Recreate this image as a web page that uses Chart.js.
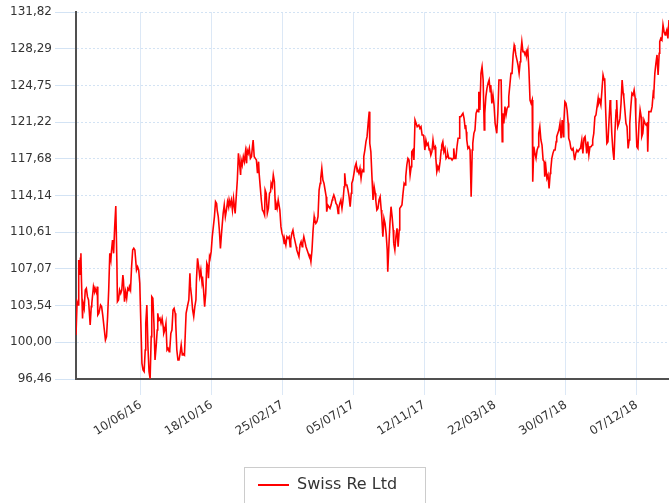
<!DOCTYPE html>
<html>
<head>
<meta charset="utf-8">
<script src="https://cdn.jsdelivr.net/npm/chart.js@4.4.0/dist/chart.umd.min.js"></script>
<style>
  html, body { margin: 0; padding: 0; background: #fff; }
  #chart { display: block; }
</style>
</head>
<body>
<canvas id="chart" width="669" height="503"></canvas>
<script>
var seriesName = 'Swiss Re Ltd';
var startDate = '2016-02-12';   // day 0 of the series
var lastDay = 1088;

// days since startDate
var days = [
  0, 2, 4, 5, 7, 8, 9, 10, 12, 13, 15, 17, 19, 21, 23, 26, 28, 29, 32, 34, 35, 38, 39, 40, 42, 45, 47, 49, 52, 54,
  56, 58, 60, 62, 64, 65, 67, 69, 71, 73, 75, 76, 78, 80, 82, 84, 86, 87, 89, 91, 93, 95, 97, 98, 100, 102, 104, 106, 108, 109,
  111, 113, 115, 117, 119, 121, 123, 125, 127, 128, 130, 132, 134, 136, 138, 139, 141, 143, 145, 147, 149, 150, 152, 154, 156, 158, 160, 161, 163, 165,
  167, 169, 171, 172, 174, 176, 178, 180, 182, 183, 185, 187, 189,
  191, 193, 195, 196, 199, 201, 202, 205, 207, 209, 210, 212, 214, 216, 218, 220, 221, 223, 225, 227, 229, 231, 232, 234, 236, 238, 240, 242, 243, 245,
  246, 248, 250, 252, 254, 256, 258, 259, 261, 263, 265, 267, 269, 270, 272, 274, 276, 278, 280, 281, 283, 285, 287, 289, 291, 292, 294, 296, 298, 300,
  302, 303, 305, 307, 309, 311, 313, 314, 316, 318, 320, 322, 324, 325, 327, 329, 331, 333, 335, 336, 338, 340, 342, 344, 346, 347, 349, 351, 353, 355,
  357, 358, 360, 362, 364, 366,
  367, 369, 371, 372, 374, 376, 378, 380, 382, 383, 385, 387, 389, 391, 393, 394, 396, 398, 400, 402, 404, 405, 407, 409, 411, 413, 415, 416, 418, 420,
  422, 424, 426, 427, 429, 431, 433, 435, 437, 438, 440, 442, 444, 446, 448, 449, 451, 453, 455, 457, 459, 460, 462, 464, 466, 468, 470, 471, 473, 475,
  477, 479, 481, 482, 484, 486, 488, 490, 492, 493, 495, 497, 499, 501, 503, 505, 506, 508, 510, 512, 514, 516, 517, 519, 521, 523, 525, 527, 528, 530,
  532, 534, 536, 538, 539,
  541, 543, 545, 547, 549, 550, 552, 554, 556, 558, 560, 561, 563, 565, 567, 569, 571, 572, 574, 576, 578, 580, 582, 583, 585, 587, 589, 591, 593, 594,
  596, 598, 600, 602, 604, 605, 607, 609, 611, 613, 615, 616, 618, 620, 622, 624, 626, 627, 629, 631, 633, 635, 637, 638, 640, 642, 644, 646, 648, 649,
  651, 653, 655, 657, 659, 660, 662, 664, 666, 668, 670, 671, 673, 675, 677, 679, 681, 682, 684, 686, 688, 690, 692, 693, 695, 697, 699, 701, 703, 704,
  706, 708, 710, 712, 714, 715,
  716, 717, 719, 721, 723, 725, 727, 728, 730, 732, 734, 736, 738, 739, 741, 743, 745, 747, 749, 750, 752, 754, 756, 758, 760, 761, 763, 765, 767, 769,
  771, 772, 774, 776, 778, 780, 782, 783, 785, 787, 789, 791, 793, 794, 796, 798, 800, 802, 804, 805, 807, 809, 811, 813, 815, 816, 818, 820, 822, 824,
  826, 827, 829, 831, 833, 835, 837, 838, 840, 842, 844, 846, 848, 849, 851, 853, 855, 857, 859, 860, 862, 864, 866, 868, 870, 871, 873, 875, 877, 879,
  881, 882, 884, 886, 888, 890, 892, 894, 895, 897,
  899, 901, 903, 904, 906, 908, 910, 912, 914, 915, 917, 919, 921, 923, 925, 926, 928, 930, 932, 934, 936, 937, 939, 941, 943, 945, 947, 948, 950, 952,
  954, 956, 958, 959, 961, 963, 965, 967, 969, 970, 972, 974, 976, 978, 980, 981, 983, 985, 987, 989, 991, 992, 994, 996, 998, 1000, 1002, 1004, 1005, 1007,
  1009, 1011, 1013, 1015, 1016, 1018, 1020, 1022, 1024, 1026, 1027, 1029, 1031, 1033, 1035, 1037, 1038, 1040, 1042, 1044, 1046, 1048, 1049, 1051, 1053, 1055, 1057, 1059, 1060, 1062,
  1064, 1066, 1068, 1070, 1071, 1073, 1075, 1077, 1079, 1081, 1082, 1084, 1086, 1088
];

// closing prices (CHF)
var prices = [
  100.70, 103.91, 103.59, 107.93, 106.48, 108.09, 108.57, 106.00, 102.30, 103.75, 103.27, 105.03, 105.20, 104.39, 104.07, 101.66, 103.43, 103.75, 105.36, 104.87, 105.20, 104.71, 105.36, 102.63, 102.79, 103.59, 103.43, 102.63, 101.18, 100.22,
  100.54, 102.47, 105.03, 108.57, 107.93, 108.73, 109.85, 108.57, 111.14, 113.13, 107.76, 103.91, 104.07, 105.03, 104.71, 105.03, 106.48, 106.00, 103.91, 104.87, 104.23, 105.20, 105.03, 105.36, 105.03, 107.28, 108.89, 109.05, 108.89, 108.25,
  106.96, 107.28, 106.96, 105.68, 101.82, 97.97, 97.33, 97.17, 99.25, 101.82, 103.59, 99.57, 97.17, 96.50, 100.54, 104.39, 104.23, 101.82, 98.29, 99.57, 101.18, 102.79, 102.14, 102.30, 101.82, 102.30, 101.50, 100.86, 101.18, 101.82,
  99.25, 99.41, 99.09, 99.25, 100.86, 101.18, 103.11, 103.27, 102.79, 101.82, 99.25, 98.29, 98.29,
  98.93, 99.73, 98.77, 98.93, 98.77, 101.50, 102.79, 103.59, 104.07, 106.64, 105.36, 104.39, 103.11, 102.47, 103.43, 104.07, 106.00, 108.09, 107.28, 106.32, 106.96, 105.84, 106.32, 105.03, 103.43, 104.71, 107.60, 107.28, 106.16, 108.25,
  108.09, 108.73, 110.17, 111.14, 112.10, 113.55, 113.38, 112.74, 112.10, 110.82, 109.05, 110.49, 111.78, 112.42, 113.23, 112.10, 112.74, 113.55, 113.06, 113.71, 113.23, 113.71, 112.74, 113.87, 112.90, 112.42, 114.03, 115.63, 118.20, 117.24,
  116.12, 117.56, 117.08, 117.88, 117.40, 118.36, 117.24, 118.52, 118.20, 118.69, 117.72, 117.88, 119.01, 119.49, 117.88, 117.72, 117.56, 116.28, 117.40, 116.28, 114.99, 113.71, 112.74, 112.58, 112.26, 114.67, 114.35, 112.42, 112.90, 114.35,
  114.51, 115.31, 114.99, 116.12, 115.48, 112.74,
  113.38, 112.90, 113.71, 113.71, 112.74, 111.14, 110.49, 110.17, 109.53, 109.85, 109.37, 110.17, 110.01, 110.17, 109.21, 109.85, 110.49, 110.81, 110.17, 109.69, 109.21, 108.89, 108.57, 108.25, 109.37, 109.69, 109.21, 109.53, 110.17, 109.69,
  109.21, 108.89, 108.57, 108.41, 108.41, 107.76, 108.89, 110.81, 112.10, 111.78, 111.46, 111.62, 112.10, 114.67, 115.31, 115.79, 116.76, 115.63, 115.31, 114.67, 114.03, 112.58, 113.22, 113.06, 112.90, 113.22, 113.71, 113.87, 114.19, 113.87,
  113.38, 113.22, 112.42, 112.90, 113.38, 113.71, 112.90, 113.71, 114.99, 116.28, 115.15, 115.15, 114.67, 114.03, 113.06, 114.35, 115.31, 115.63, 116.28, 116.92, 117.24, 116.44, 116.60, 116.28, 116.76, 115.79, 116.60, 116.44, 117.88, 118.52,
  119.33, 119.81, 121.09, 122.22, 119.17,
  118.36, 115.95, 113.71, 114.99, 114.35, 113.71, 112.74, 112.90, 113.71, 114.03, 112.74, 112.10, 110.17, 111.94, 111.46, 110.49, 108.89, 106.80, 109.21, 111.46, 113.06, 112.10, 110.81, 109.53, 108.89, 110.17, 110.97, 109.21, 110.81, 112.90,
  113.06, 113.22, 114.35, 115.31, 115.15, 115.95, 117.08, 117.72, 117.56, 116.11, 116.92, 118.36, 118.52, 117.56, 121.41, 121.09, 120.77, 120.77, 120.93, 120.61, 120.77, 119.97, 119.97, 119.81, 118.52, 119.49, 119.00, 119.17, 118.52, 118.68,
  118.04, 118.36, 119.49, 118.68, 118.84, 117.88, 116.44, 116.92, 116.60, 117.40, 118.52, 119.00, 119.33, 118.36, 118.68, 117.72, 117.88, 118.20, 117.72, 117.72, 117.72, 117.56, 117.72, 118.68, 117.72, 117.72, 118.84, 119.65, 119.65, 121.73,
  121.73, 121.90, 122.06, 121.57, 120.61, 120.93,
  120.29, 119.49, 118.68, 118.84, 118.52, 114.03, 118.52, 119.17, 120.13, 120.45, 122.06, 122.38, 122.22, 124.14, 122.38, 125.91, 126.55, 125.27, 120.45, 122.06, 123.66, 124.47, 124.95, 125.27, 124.14, 124.79, 123.02, 123.82, 122.86, 121.09,
  120.45, 120.13, 122.06, 125.27, 125.27, 125.27, 119.33, 122.06, 121.09, 122.70, 121.89, 122.54, 122.70, 123.66, 124.79, 125.91, 125.91, 127.68, 128.64, 128.48, 127.68, 127.20, 126.71, 125.91, 127.03, 127.84, 128.96, 128.00, 128.00, 127.68,
  128.00, 127.68, 128.16, 126.23, 123.34, 123.02, 123.34, 115.47, 118.84, 118.20, 117.72, 118.52, 118.84, 120.13, 120.77, 119.49, 119.00, 117.56, 117.40, 115.95, 116.92, 115.79, 116.11, 114.83, 116.27, 116.60, 117.72, 118.20, 118.52, 118.52,
  119.33, 119.81, 120.13, 120.45, 121.09, 119.65, 121.41, 119.81, 121.09, 123.18,
  123.02, 122.38, 121.09, 119.65, 119.33, 118.68, 118.52, 118.68, 117.88, 117.56, 118.20, 118.52, 118.36, 118.52, 118.68, 118.84, 119.49, 118.20, 119.65, 119.81, 118.84, 118.20, 119.33, 118.04, 118.84, 118.84, 119.00, 119.49, 120.13, 121.73,
  121.89, 122.70, 123.50, 123.02, 123.34, 122.86, 124.30, 125.75, 125.27, 125.43, 122.06, 119.16, 119.33, 121.41, 123.34, 122.70, 120.13, 118.52, 117.56, 120.45, 122.38, 123.34, 120.77, 121.09, 121.57, 123.02, 125.27, 123.98, 123.66, 122.38,
  121.09, 120.77, 118.68, 119.49, 121.09, 122.70, 123.98, 123.82, 124.30, 123.50, 121.73, 118.84, 118.68, 121.09, 122.38, 121.73, 119.81, 120.13, 121.41, 121.09, 120.93, 121.09, 118.36, 122.22, 122.22, 122.22, 122.70, 123.98, 123.82, 125.91,
  126.87, 127.68, 125.75, 127.84, 128.96, 129.28, 129.12, 130.57, 129.92, 129.60, 129.76, 130.09, 129.28, 131.05
];

var xTickLabels = ['10/06/16', '18/10/16', '25/02/17', '05/07/17', '12/11/17', '22/03/18', '30/07/18', '07/12/18'];
var yTicks = [96.46, 100.00, 103.54, 107.07, 110.61, 114.14, 117.68, 121.22, 124.75, 128.29, 131.82];

// dd/mm/yy -> days since startDate
function labelToDay(label) {
  var p = label.split('/');
  var t = Date.UTC(2000 + Number(p[2]), Number(p[1]) - 1, Number(p[0]));
  var s = Date.parse(startDate + 'T00:00:00Z');
  return Math.round((t - s) / 86400000);
}
var xTickDays = xTickLabels.map(labelToDay);

var points = days.map(function(d, i) {
  return { x: d, y: prices[i] };
});

var tickFont = { family: 'DejaVu Sans', size: 12 };

// legend in a bordered box, centred under the chart
var boxLegend = {
  id: 'boxLegend',
  afterDraw: function(chart) {
    var ctx = chart.ctx;
    var ds = chart.data.datasets[0];
    ctx.save();
    ctx.font = '16px "DejaVu Sans"';
    var tw = ctx.measureText(ds.label).width;
    var boxW = Math.round(tw + 81);
    var left = Math.round((chart.width - boxW) / 2);
    var top = 467;
    ctx.strokeStyle = '#cccccc';
    ctx.lineWidth = 1;
    ctx.strokeRect(left + 0.5, top + 0.5, boxW, 60);
    ctx.strokeStyle = ds.borderColor;
    ctx.lineWidth = 2;
    ctx.beginPath();
    ctx.moveTo(left + 14, top + 18);
    ctx.lineTo(left + 45, top + 18);
    ctx.stroke();
    ctx.fillStyle = '#333333';
    ctx.textBaseline = 'middle';
    ctx.fillText(ds.label, left + 53, top + 18);
    ctx.restore();
  }
};

new Chart(document.getElementById('chart'), {
  type: 'line',
  data: {
    datasets: [{
      label: seriesName,
      data: points,
      borderColor: '#ff0000',
      borderWidth: 1.6,
      pointRadius: 0,
      tension: 0,
      fill: false
    }]
  },
  options: {
    responsive: false,
    animation: false,
    layout: { padding: { top: 12, right: 0, bottom: 0, left: 0 } },
    plugins: {
      legend: { display: false },
      tooltip: { enabled: false }
    },
    scales: {
      x: {
        type: 'linear',
        min: 0,
        max: lastDay,
        afterBuildTicks: function(scale) {
          scale.ticks = xTickDays.map(function(v) { return { value: v }; });
        },
        afterFit: function(scale) { scale.height = 124; },
        ticks: {
          autoSkip: false,
          minRotation: 32,
          maxRotation: 32,
          font: tickFont,
          color: '#333333',
          callback: function(v) {
            var i = xTickDays.indexOf(v);
            return i >= 0 ? xTickLabels[i] : '';
          }
        },
        grid: { color: '#dce8f6', lineWidth: 1, tickLength: 16 },
        border: { display: true, color: '#505050', width: 2 }
      },
      y: {
        min: yTicks[0],
        max: yTicks[yTicks.length - 1],
        afterBuildTicks: function(scale) {
          scale.ticks = yTicks.map(function(v) { return { value: v }; });
        },
        afterFit: function(scale) { scale.width = 76; },
        ticks: {
          autoSkip: false,
          font: tickFont,
          color: '#333333',
          padding: 3,
          callback: function(v) { return v.toFixed(2).replace('.', ','); }
        },
        grid: { color: '#d3e3f4', lineWidth: 1, tickLength: 21 },
        border: { display: true, color: '#505050', width: 2, dash: [2, 2] }
      }
    }
  },
  plugins: [boxLegend]
});
</script>
</body>
</html>
